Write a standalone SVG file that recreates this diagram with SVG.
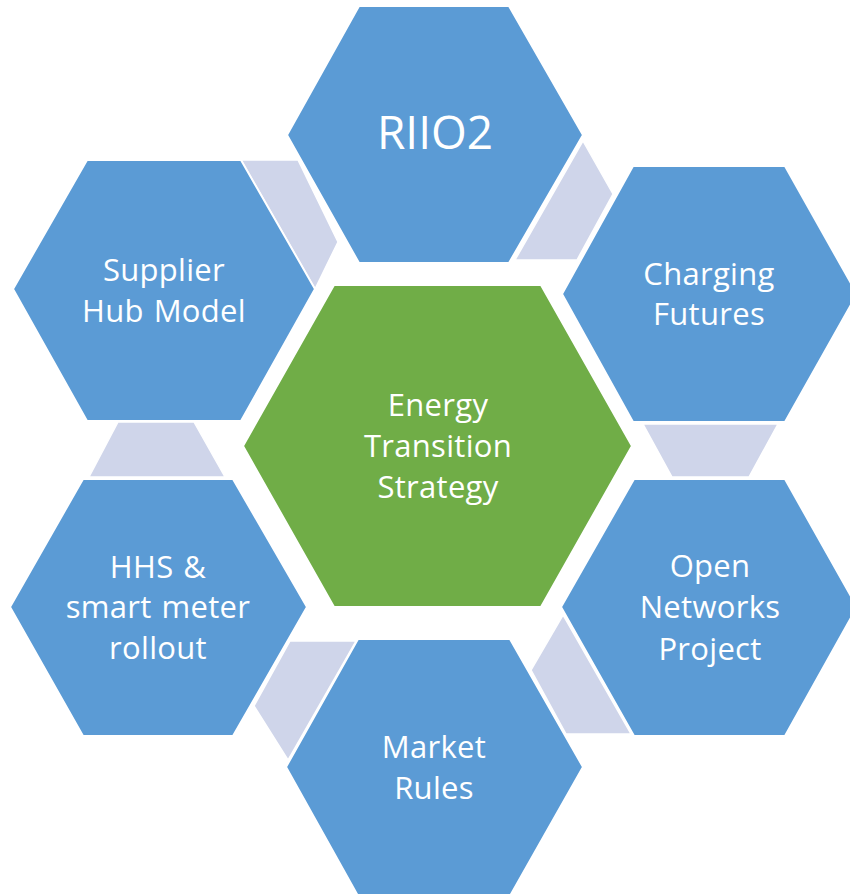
<svg xmlns="http://www.w3.org/2000/svg" width="850" height="894" viewBox="0 0 850 894">
<style>
.hex{fill:#5B9BD5;stroke:#FFFFFF;stroke-width:2}
.core{fill:#70AD47;stroke:#FFFFFF;stroke-width:2}
.link{fill:#CFD5EA;stroke:#FFFFFF;stroke-width:1.5}
.lbl{font-family:"Open Sans","Liberation Sans",sans-serif;font-size:31px;letter-spacing:0.3px;word-spacing:1.5px;fill:#FFFFFF;text-anchor:middle}
.big{font-size:46px;letter-spacing:0}
</style>
<rect width="850" height="894" fill="#FFFFFF"/>
<g id="connectors">
<polygon class="link" points="241,160 298,160 338,242 315,289"/>
<polygon class="link" points="583,141 613,194 577,260 515,260"/>
<polygon class="link" points="643,424 778,424 749,477 672,477"/>
<polygon class="link" points="563,615 531,670 566,734 631,734"/>
<polygon class="link" points="290,641 356,641 288,760 254,706"/>
<polygon class="link" points="118,422 194,422 225,477 89,477"/>
</g>
<g id="riio2">
<polygon class="hex" points="359,6 509,6 583,135 509,263 359,263 287,135"/>
<text class="lbl big" x="435" y="149">RIIO2</text>
</g>
<g id="charging-futures">
<polygon class="hex" points="633,166 785,166 857,294 785,422 633,422 562,294"/>
<text class="lbl" x="709" y="285">Charging</text>
<text class="lbl" x="709" y="325">Futures</text>
</g>
<g id="open-networks">
<polygon class="hex" points="634,479 785,479 857,607 785,736 634,736 561,607"/>
<text class="lbl" x="710" y="577">Open</text>
<text class="lbl" x="710" y="618">Networks</text>
<text class="lbl" x="710" y="660">Project</text>
</g>
<g id="market-rules">
<polygon class="hex" points="358,639 510,639 583,767 510,896 358,896 286,767"/>
<text class="lbl" x="434" y="758">Market</text>
<text class="lbl" x="434" y="799">Rules</text>
</g>
<g id="hhs">
<polygon class="hex" points="83,479 233,479 307,607 233,736 83,736 10,607"/>
<text class="lbl" x="158" y="578">HHS &amp;</text>
<text class="lbl" x="158" y="618">smart meter</text>
<text class="lbl" x="158" y="659">rollout</text>
</g>
<g id="supplier-hub">
<polygon class="hex" points="87,160 241,160 315,289 241,421 87,421 13,289"/>
<text class="lbl" x="164" y="281">Supplier</text>
<text class="lbl" x="164" y="322">Hub Model</text>
</g>
<g id="energy-transition">
<polygon class="core" points="334,285 541,285 632,446 541,607 334,607 243,446"/>
<text class="lbl" x="438" y="416">Energy</text>
<text class="lbl" x="438" y="457">Transition</text>
<text class="lbl" x="438" y="498">Strategy</text>
</g>
</svg>
